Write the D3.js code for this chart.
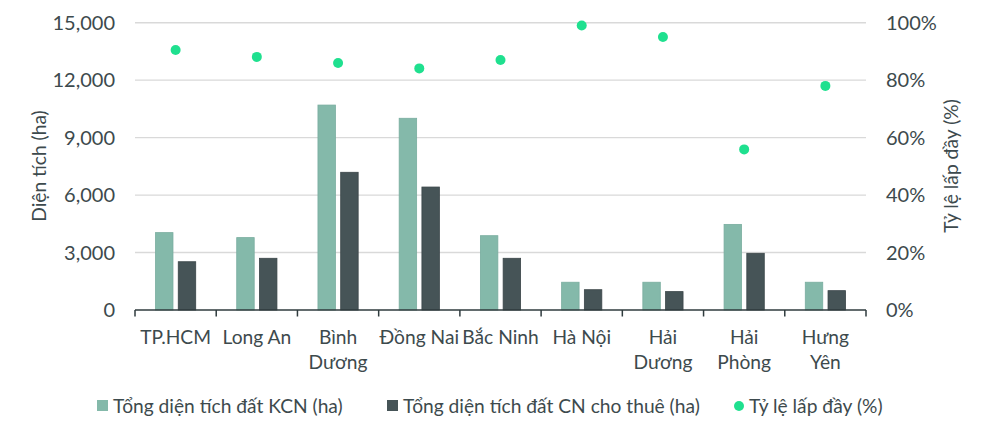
<!DOCTYPE html>
<html><head><meta charset="utf-8">
<script src="https://cdn.jsdelivr.net/npm/d3@7"></script>
<style>
html,body{margin:0;padding:0;background:#fff;}
text{font-family:Lato,"Noto Sans",sans-serif;fill:#3d4a4d;}
</style></head>
<body><svg id="c" width="990" height="438"></svg>
<script>
const categories = [["TP.HCM"],["Long An"],["Bình","Dương"],["Đồng Nai"],["Bắc Ninh"],["Hà Nội"],["Hải","Dương"],["Hải","Phòng"],["Hưng","Yên"]];
const totalKCN = [4040, 3780, 10700, 10010, 3880, 1450, 1450, 4470, 1450];
const leasedCN = [2520, 2700, 7190, 6420, 2700, 1060, 960, 2960, 1010];
const fillRate = [0.905, 0.881, 0.860, 0.841, 0.870, 0.990, 0.950, 0.559, 0.780];
const leftTicks = [0, 3000, 6000, 9000, 12000, 15000];
const rightTicks = [0, 0.2, 0.4, 0.6, 0.8, 1.0];
const seriesNames = ["Tổng diện tích đất KCN (ha)", "Tổng diện tích đất CN cho thuê (ha)", "Tỷ lệ lấp đầy (%)"];
const colors = ["#84b9aa", "#465457", "#1fe08f"];

const svg = d3.select("#c");
const L = 135, R = 866, T = 22.7, B = 310;
const idx = d3.range(categories.length);
const x = d3.scaleBand().domain(idx).range([L, R]).paddingInner(0).paddingOuter(0);
const yL = d3.scaleLinear().domain([0, 15000]).range([B, T]);
const yR = d3.scaleLinear().domain([0, 1]).range([B, T]);
const fs = 19.2, fsn = 20;

// gridlines
svg.append("g").selectAll("line").data(leftTicks.filter(d=>d>0)).join("line")
  .attr("x1", L).attr("x2", R).attr("y1", d=>yL(d)).attr("y2", d=>yL(d))
  .attr("stroke", "#d9d9d9").attr("stroke-width", 1.4);

// left tick labels
svg.append("g").selectAll("text").data(leftTicks).join("text")
  .attr("x", 115).attr("y", d=>yL(d)).attr("dy", "0.35em").attr("text-anchor", "end")
  .style("font-size", fsn+"px").text(d=>d3.format(",")(d));
// right tick labels
svg.append("g").selectAll("text").data(rightTicks).join("text")
  .attr("x", 886).attr("y", d=>yR(d)).attr("dy", "0.35em").attr("text-anchor", "start")
  .style("font-size", fsn+"px").text(d=>d3.format(".0%")(d));

// axis titles
svg.append("text").attr("transform", "translate(46,166) rotate(-90)").attr("text-anchor","middle")
  .style("font-size", fs+"px").text("Diện tích (ha)");
svg.append("text").attr("transform", "translate(958,166) rotate(-90)").attr("text-anchor","middle")
  .style("font-size", fs+"px").text("Tỷ lệ lấp đầy (%)");

const bw = x.bandwidth()*0.215, gap = x.bandwidth()*0.065;
const cx = i => x(i) + x.bandwidth()/2;
// bars
svg.append("g").selectAll("rect").data(totalKCN).join("rect")
  .attr("x", (d,i)=>cx(i)-gap/2-bw).attr("width", bw)
  .attr("y", d=>yL(d)).attr("height", d=>B-yL(d))
  .attr("fill", colors[0]).attr("stroke", "#79ad9f").attr("stroke-width", 0.8);
svg.append("g").selectAll("rect").data(leasedCN).join("rect")
  .attr("x", (d,i)=>cx(i)+gap/2).attr("width", bw)
  .attr("y", d=>yL(d)).attr("height", d=>B-yL(d))
  .attr("fill", colors[1]).attr("stroke", "#3a4548").attr("stroke-width", 0.8);

// bottom axis
const ax = svg.append("g");
ax.append("line").attr("x1", L).attr("x2", R).attr("y1", B).attr("y2", B)
  .attr("stroke", "#2f3b3e").attr("stroke-width", 1.5);
ax.selectAll("line.t").data(d3.range(categories.length+1)).join("line").attr("class","t")
  .attr("x1", i=> i<categories.length ? x(i) : R).attr("x2", i=> i<categories.length ? x(i) : R)
  .attr("y1", B).attr("y2", B+6.5).attr("stroke", "#2f3b3e").attr("stroke-width", 1.5);

// category labels
const cl = svg.append("g").selectAll("text").data(categories).join("text")
  .attr("text-anchor","middle").style("font-size", fs+"px");
cl.each(function(lines,i){
  d3.select(this).selectAll("tspan").data(lines).join("tspan")
    .attr("x", cx(i)).attr("y", (d,j)=>344 + j*25).text(d=>d);
});

// dots
svg.append("g").selectAll("circle").data(fillRate).join("circle")
  .attr("cx", (d,i)=>cx(i)).attr("cy", d=>yR(d)).attr("r", 5).attr("fill", colors[2]);

// legend
const lg = svg.append("g");
const legX = [97, 387, 733];
seriesNames.forEach((n,i)=>{
  if(i<2){
    lg.append("rect").attr("x", legX[i]).attr("y", 400).attr("width", 11).attr("height", 11).attr("fill", colors[i]);
  } else {
    lg.append("circle").attr("cx", legX[i]+6).attr("cy", 406).attr("r", 5).attr("fill", colors[i]);
  }
  lg.append("text").attr("x", legX[i]+16).attr("y", 406).attr("dy","0.35em")
    .style("font-size", fs+"px").text(n);
});
</script></body></html>
